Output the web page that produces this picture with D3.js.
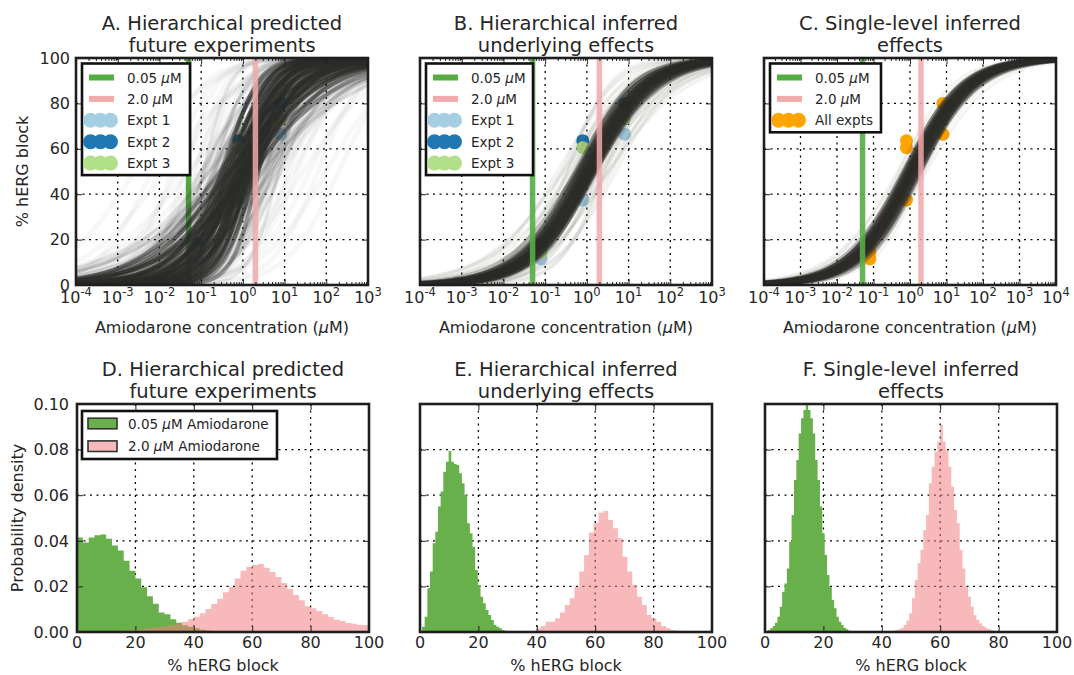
<!DOCTYPE html>
<html><head><meta charset="utf-8">
<script src="https://cdn.jsdelivr.net/npm/d3@7/dist/d3.min.js"></script>
<style>
body{margin:0;background:#fff;}
text{font-family:"DejaVu Sans","Liberation Sans",sans-serif;fill:#262626;}
</style>
</head><body>
<svg id="c" width="1074" height="675"></svg>
<script>
// ---------------- DATA ----------------
const topTitles = [["A. Hierarchical predicted","future experiments"],["B. Hierarchical inferred","underlying effects"],["C. Single-level inferred","effects"]];
const botTitles = [["D. Hierarchical predicted","future experiments"],["E. Hierarchical inferred","underlying effects"],["F. Single-level inferred","effects"]];
const xTickExpAB = [-4,-3,-2,-1,0,1,2,3];
const xTickExpC = [-4,-3,-2,-1,0,1,2,3,4];
const yTicksTop = [0,20,40,60,80,100];
const xTicksHist = [0,20,40,60,80,100];
const yTicksHist = [0,0.02,0.04,0.06,0.08,0.10];
const markerConcs = [0.05, 2.0];           // µM, vertical lines
const exptConcs = [0.0008, 0.08, 0.8, 8];  // µM
const expt1 = [0.3, 11.5, 37.4, 66.4];
const expt2 = [0.0, 18.4, 63.6, 80.0];
const expt3 = [1.0, 14.5, 60.5, 73.2];
const exptNames = ["Expt 1","Expt 2","Expt 3"];

// Hill-curve samples: log10 IC50 (µM) and Hill coefficient
const aCoreIC50 = [-0.55,-0.52,-0.49,-0.46,-0.44,-0.41,-0.39,-0.37,-0.35,-0.33,-0.31,-0.29,-0.27,-0.25,-0.23,-0.21,-0.19,-0.17,-0.15,-0.13,-0.12,-0.10,-0.09,-0.07,-0.06,-0.04,-0.03,-0.01,0.00,0.01,0.02,0.04,0.05,0.06,0.08,0.09,0.10,0.12,0.13,0.15,0.16,0.18,0.19,0.21,0.22,0.24,0.26,0.28,0.30,0.32,0.34,0.36,0.38,-0.30,-0.15,0.0,0.12,0.25,-0.05,0.07];
const aCoreHill = [0.45,0.95,0.70,1.10,0.50,0.85,1.25,0.62,0.90,0.42,1.05,0.75,0.58,1.15,0.80,0.48,0.98,0.68,1.30,0.55,0.88,0.44,1.08,0.74,0.62,1.20,0.52,0.92,0.70,1.00,0.46,1.12,0.80,0.60,0.96,0.66,1.35,0.50,0.86,0.72,1.18,0.54,0.94,0.40,1.02,0.64,1.28,0.78,0.48,1.10,0.70,0.90,1.40,0.44,0.84,0.58,1.22,0.76,1.38,0.42];
const aMidIC50 = [-1.0,-0.9,-0.82,-0.75,-0.7,-0.65,-0.6,-0.55,0.45,0.5,0.55,0.6,0.65,0.7,0.75,0.82,0.9,-0.8,-0.5,0.5,0.7,-0.3,0.3,0.0,-0.95,0.85,-0.68,0.62,-0.4,0.4];
const aMidHill = [0.6,0.8,0.5,1.0,0.7,1.2,0.45,0.9,0.55,0.85,1.1,0.65,0.5,0.95,0.7,0.6,0.8,0.38,0.35,0.4,0.45,0.32,0.36,0.34,1.4,1.3,0.75,0.9,0.3,0.33];
const aFringeIC50 = [-2.6,-2.2,-1.9,-1.7,-1.55,-1.4,-1.3,-1.2,-1.1,-1.0,-0.95,-0.9,-0.85,-0.8,-0.75,-0.7,-0.65,-0.6,-0.55,-0.5,-0.35,-0.2,-0.05,0.1,0.25,0.35,0.4,0.45,0.5,0.55,0.6,0.65,0.7,0.75,0.8,0.9,1.0,1.1,1.2,1.3,1.45,1.6,1.8,2.0,2.3,-1.0,-0.6,0.5,0.9,-0.3];
const aFringeHill = [0.5,0.7,0.45,0.9,0.6,1.1,0.4,0.8,1.3,0.55,0.95,0.65,1.5,0.45,0.75,1.2,0.5,0.85,1.0,0.6,0.35,0.3,1.6,0.4,0.32,0.7,1.4,0.55,0.9,0.6,1.2,0.5,0.8,1.0,0.45,0.7,0.55,0.9,0.6,0.75,0.5,0.65,0.8,0.55,0.7,0.38,0.42,0.36,0.48,1.8];
const bCoreIC50 = [-0.28,-0.26,-0.24,-0.22,-0.20,-0.19,-0.17,-0.16,-0.14,-0.13,-0.12,-0.10,-0.09,-0.08,-0.07,-0.06,-0.05,-0.04,-0.03,-0.02,-0.01,0.00,0.01,0.02,0.03,0.04,0.05,0.06,0.07,0.08,0.09,0.10,0.11,0.12,0.13,0.14,0.15,0.16,0.17,0.18,0.19,0.20,0.21,0.22,-0.05];
const bCoreHill = [0.60,0.52,0.66,0.56,0.63,0.58,0.70,0.54,0.61,0.65,0.57,0.62,0.68,0.53,0.59,0.64,0.56,0.60,0.67,0.55,0.62,0.58,0.65,0.51,0.60,0.69,0.57,0.63,0.54,0.61,0.66,0.56,0.59,0.64,0.52,0.62,0.58,0.67,0.55,0.60,0.63,0.53,0.57,0.61,0.59];
const bFringeIC50 = [-0.7,-0.6,-0.55,-0.5,-0.45,-0.4,-0.35,-0.32,0.28,0.3,0.35,0.4,0.45,0.5,0.55,0.6,0.7,-0.2,0.1,-0.45,0.4,0.0,-0.6,0.5,0.25];
const bFringeHill = [0.55,0.7,0.45,0.8,0.6,0.5,0.75,0.65,0.5,0.7,0.45,0.6,0.8,0.55,0.5,0.65,0.6,0.4,0.42,0.9,0.85,0.85,0.48,0.44,0.75];
const cCoreIC50 = [-0.18,-0.16,-0.14,-0.12,-0.10,-0.08,-0.06,-0.05,-0.03,-0.02,-0.01,0.00,0.01,0.02,0.03,0.04,0.05,0.06,0.07,0.08,0.09,0.10,0.11,0.12,0.13,0.15,0.16,0.18,0.20,0.22,0.24,0.26,0.28,0.30,0.07];
const cCoreHill = [0.55,0.51,0.58,0.53,0.57,0.52,0.59,0.54,0.56,0.50,0.58,0.55,0.52,0.57,0.54,0.60,0.53,0.56,0.51,0.58,0.55,0.52,0.59,0.54,0.57,0.50,0.56,0.53,0.58,0.55,0.51,0.57,0.54,0.59,0.55];
const cFringeIC50 = [-0.35,-0.3,-0.25,0.35,0.4,0.45,-0.1,0.2,0.0,0.1];
const cFringeHill = [0.5,0.6,0.45,0.5,0.62,0.48,0.45,0.65,0.62,0.46];

// Histograms (probability density), bins: start, width, heights
const dGreenStart = 0, dGreenWidth = 2;
const dGreen = [0.0415,0.0393,0.0414,0.0424,0.0428,0.0409,0.0379,0.0358,0.0313,0.0269,0.0235,0.0196,0.0157,0.0124,0.0086,0.0078,0.0056,0.0041,0.0030,0.0023,0.0016,0.0010,0.0007,0.0004,0.0002];
const dPinkStart = 0, dPinkWidth = 2;
const dPink = [0,0,0,0,0,0.0003,0.0004,0.0005,0.0007,0.0009,0.0011,0.0014,0.0017,0.0020,0.0023,0.0027,0.0031,0.0036,0.0045,0.0056,0.0067,0.0082,0.0101,0.0123,0.0145,0.0174,0.0197,0.0235,0.0269,0.0285,0.0294,0.0298,0.0282,0.0263,0.0241,0.0215,0.0189,0.0162,0.0139,0.0113,0.0104,0.0092,0.0078,0.0066,0.0054,0.0048,0.0039,0.0036,0.0031,0.0031];
const eGreenStart = 0.7, eGreenWidth = 0.91;
const eGreen = [0.0023,0.0067,0.0192,0.0265,0.0389,0.0440,0.0550,0.0616,0.0703,0.0747,0.0794,0.0747,0.0737,0.0732,0.0696,0.0652,0.0601,0.0477,0.0433,0.0374,0.0272,0.0206,0.0155,0.0126,0.0096,0.0075,0.0053,0.0031,0.0023,0.0016,0.0009,0.0006];
const ePinkStart = 39.7, ePinkWidth = 1.65;
const ePink = [0.0016,0.0026,0.0045,0.0045,0.0060,0.0085,0.0118,0.0148,0.0199,0.0265,0.0338,0.0436,0.0479,0.0523,0.0531,0.0491,0.0455,0.0411,0.0330,0.0265,0.0206,0.0155,0.0118,0.0075,0.0060,0.0045,0.0026,0.0016,0.0009,0.0006];
const fGreenStart = 1.0, fGreenWidth = 0.81;
const fGreen = [0.0009,0.0016,0.0026,0.0041,0.0067,0.0111,0.0177,0.0213,0.0279,0.0396,0.0513,0.0667,0.0754,0.0871,0.0937,0.0974,0.0996,0.0974,0.0937,0.0871,0.0754,0.0667,0.0550,0.0433,0.0338,0.0250,0.0199,0.0140,0.0104,0.0067,0.0045,0.0031,0.0019,0.0012,0.0006];
const fPinkStart = 44.6, fPinkWidth = 0.96;
const fPink = [0.0009,0.0012,0.0019,0.0031,0.0050,0.0082,0.0148,0.0228,0.0301,0.0360,0.0447,0.0513,0.0652,0.0725,0.0791,0.0835,0.0908,0.0835,0.0798,0.0725,0.0637,0.0535,0.0477,0.0360,0.0279,0.0199,0.0155,0.0111,0.0075,0.0053,0.0038,0.0026,0.0019,0.0013,0.0009];

// ---------------- STYLE / LAYOUT ----------------
const GREEN_LINE = "#55ad44", PINK_LINE = "#f2a9a9";
const GREEN_FILL = "#68b04b", PINK_FILL = "#f08080";
const EXPT_COLORS = ["#a6cee3","#1f78b4","#b2df8a"];
const ORANGE = "#ffa500";
const CURVE = "#2b2b29";
const W = 292;
const topTop = 58, topBot = 285;
const botTop = 404, botBot = 632;
const topX = [76, 420, 764];
const botX = [77, 420, 765];

const svg = d3.select("#c");
const defs = svg.append("defs");

function hill(x, logIC50, h){ return 100/(1+Math.pow(Math.pow(10,logIC50)/x, h)); }

function addMuText(sel, before, after){
  sel.append("tspan").text(before);
  sel.append("tspan").style("font-style","italic").text("\u03bc");
  sel.append("tspan").text(after);
}

function title(lines, cx, y1){
  lines.forEach((t,i)=>{
    svg.append("text").attr("x",cx).attr("y",y1+i*22).attr("text-anchor","middle")
      .style("font-size","19.5px").text(t);
  });
}

function ticksAll(g, xs, ys, xMajor, xMinor, yMajor, x0, y0, y1){
  const rm = s=>s.select(".domain").remove();
  const style = s=>s.selectAll("line").attr("stroke","#222").attr("stroke-width",1);
  g.append("g").attr("transform",`translate(0,${y1})`).call(d3.axisBottom(xs).tickValues(xMajor).tickSize(-6).tickFormat("")).call(rm).call(style);
  g.append("g").attr("transform",`translate(0,${y0})`).call(d3.axisTop(xs).tickValues(xMajor).tickSize(-6).tickFormat("")).call(rm).call(style);
  if (xMinor.length){
    g.append("g").attr("transform",`translate(0,${y1})`).call(d3.axisBottom(xs).tickValues(xMinor).tickSize(-3).tickFormat("")).call(rm).call(style);
    g.append("g").attr("transform",`translate(0,${y0})`).call(d3.axisTop(xs).tickValues(xMinor).tickSize(-3).tickFormat("")).call(rm).call(style);
  }
  g.append("g").attr("transform",`translate(${x0},0)`).call(d3.axisLeft(ys).tickValues(yMajor).tickSize(-6).tickFormat("")).call(rm).call(style);
  g.append("g").attr("transform",`translate(${x0+W},0)`).call(d3.axisRight(ys).tickValues(yMajor).tickSize(-6).tickFormat("")).call(rm).call(style);
}

function grid(g, xs, ys, xVals, yVals, x0, y0, y1){
  xVals.forEach(v=>{
    g.append("line").attr("x1",xs(v)).attr("x2",xs(v)).attr("y1",y0).attr("y2",y1)
      .attr("stroke","#000").attr("stroke-width",1.3).attr("stroke-dasharray","2,4.5");
  });
  yVals.forEach(v=>{
    g.append("line").attr("x1",x0).attr("x2",x0+W).attr("y1",ys(v)).attr("y2",ys(v))
      .attr("stroke","#000").attr("stroke-width",1.3).attr("stroke-dasharray","2,4.5");
  });
}

function frame(g, x0, y0, y1){
  g.append("rect").attr("x",x0).attr("y",y0).attr("width",W).attr("height",y1-y0)
    .attr("fill","none").attr("stroke","#1e1e1e").attr("stroke-width",2.6);
}

// ---------------- TOP PANELS ----------------
const topPanels = [
  {exps:xTickExpAB, sets:[[aFringeIC50,aFringeHill,0.04,5],[aMidIC50,aMidHill,0.1,3.5],[aCoreIC50,aCoreHill,0.42,4]], greenOnTop:false, single:false, legW:108},
  {exps:xTickExpAB, sets:[[bFringeIC50,bFringeHill,0.06,3.5],[bCoreIC50,bCoreHill,0.3,4.2]], greenOnTop:true, single:false, legW:107},
  {exps:xTickExpC, sets:[[cFringeIC50,cFringeHill,0.06,3],[cCoreIC50,cCoreHill,0.34,4.6]], greenOnTop:true, single:true, legW:111}
];

topPanels.forEach((p,i)=>{
  const x0 = topX[i];
  const lo = d3.min(p.exps), hi = d3.max(p.exps);
  const xs = d3.scaleLog().domain([Math.pow(10,lo), Math.pow(10,hi)]).range([x0, x0+W]);
  const ys = d3.scaleLinear().domain([0,100]).range([topBot, topTop]);
  const clipId = "ct"+i;
  defs.append("clipPath").attr("id",clipId).append("rect").attr("x",x0).attr("y",topTop).attr("width",W).attr("height",topBot-topTop);
  const g = svg.append("g");
  const inner = g.append("g").attr("clip-path",`url(#${clipId})`);
  const majors = p.exps.map(e=>Math.pow(10,e));
  const minors = [];
  p.exps.slice(0,-1).forEach(e=>{ for(let k=2;k<=9;k++) minors.push(k*Math.pow(10,e)); });
  grid(inner, xs, ys, majors.slice(1,-1), yTicksTop.slice(1,-1), x0, topTop, topBot);

  const vline = (c,color,op)=> inner.append("line").attr("x1",xs(c)).attr("x2",xs(c)).attr("y1",topTop).attr("y2",topBot)
      .attr("stroke",color).attr("stroke-width",5.5).attr("opacity",op);
  if(!p.greenOnTop) vline(markerConcs[0], GREEN_LINE, 1);

  // experimental points (under the curves)
  const exps = [expt1, expt2, expt3];
  exps.forEach((vals,k)=>{
    vals.forEach((v,j)=>{
      inner.append("circle").attr("cx",xs(exptConcs[j])).attr("cy",ys(v)).attr("r",6.5)
        .attr("fill", p.single ? ORANGE : EXPT_COLORS[k]);
    });
  });

  // curves
  const nS = 200;
  const xsamp = d3.range(nS+1).map(k=>Math.pow(10, lo + (hi-lo)*k/nS));
  const line = d3.line().x(d=>xs(d[0])).y(d=>ys(d[1]));
  p.sets.forEach(([ics, hs, op, sw])=>{
    ics.forEach((ic,k)=>{
      const pts = xsamp.map(x=>[x, hill(x, ic, hs[k])]);
      inner.append("path").attr("d",line(pts)).attr("fill","none")
        .attr("stroke",CURVE).attr("stroke-width",sw).attr("stroke-opacity",op);
    });
  });

  if(p.greenOnTop) vline(markerConcs[0], GREEN_LINE, 0.9);
  vline(markerConcs[1], PINK_LINE, 0.85);

  ticksAll(g, xs, ys, majors, minors, yTicksTop, x0, topTop, topBot);
  frame(g, x0, topTop, topBot);

  // x tick labels 10^e
  p.exps.forEach(e=>{
    const t = g.append("text").attr("x",xs(Math.pow(10,e))).attr("y",303).attr("text-anchor","middle").style("font-size","16px");
    t.append("tspan").text("10");
    t.append("tspan").attr("dy",-7).style("font-size","11.5px").text(e<0 ? "-"+(-e) : String(e));
  });
  // y tick labels only on first
  if(i===0){
    yTicksTop.forEach(v=>{
      g.append("text").attr("x",x0-6).attr("y",ys(v)+5.5).attr("text-anchor","end").style("font-size","16px").text(v);
    });
    g.append("text").attr("transform",`translate(28,${(topTop+topBot)/2}) rotate(-90)`).attr("text-anchor","middle")
      .style("font-size","16px").text("% hERG block");
  }
  addMuText(g.append("text").attr("x",x0+W/2).attr("y",333).attr("text-anchor","middle").style("font-size","16px"),
    "Amiodarone concentration (", "M)");
  title(topTitles[i], x0+W/2, 29.5);

  // legend
  const lx = x0+6, ly = topTop+5.5;
  const rows = p.single ? 3 : 5;
  const lh = 14 + (rows-1)*21.4 + 12;
  g.append("rect").attr("x",lx).attr("y",ly).attr("width",p.legW).attr("height",lh)
    .attr("fill","#fff").attr("stroke","#111").attr("stroke-width",2.6);
  const rowY = r=> ly + 14 + r*21.4;
  [[GREEN_LINE,"0.05 "],[PINK_LINE,"2.0 "]].forEach((d,r)=>{
    g.append("line").attr("x1",lx+7).attr("x2",lx+32).attr("y1",rowY(r)).attr("y2",rowY(r))
      .attr("stroke",d[0]).attr("stroke-width",6);
    addMuText(g.append("text").attr("x",lx+45).attr("y",rowY(r)+5).style("font-size","13.5px"), d[1], "M");
  });
  const dotRows = p.single ? [[ORANGE,"All expts"]] : EXPT_COLORS.map((c,k)=>[c, exptNames[k]]);
  dotRows.forEach((d,r)=>{
    const yy = rowY(r+2);
    [8.5,18.5,28.5].forEach(dx=>{
      g.append("circle").attr("cx",lx+dx).attr("cy",yy).attr("r",7.5).attr("fill",d[0]);
    });
    g.append("text").attr("x",lx+45).attr("y",yy+5).style("font-size","13.5px").text(d[1]);
  });
});

// ---------------- BOTTOM PANELS ----------------
const botPanels = [
  {green:[dGreenStart,dGreenWidth,dGreen], pink:[dPinkStart,dPinkWidth,dPink]},
  {green:[eGreenStart,eGreenWidth,eGreen], pink:[ePinkStart,ePinkWidth,ePink]},
  {green:[fGreenStart,fGreenWidth,fGreen], pink:[fPinkStart,fPinkWidth,fPink]}
];

botPanels.forEach((p,i)=>{
  const x0 = botX[i];
  const xs = d3.scaleLinear().domain([0,100]).range([x0, x0+W]);
  const ys = d3.scaleLinear().domain([0,0.1]).range([botBot, botTop]);
  const clipId = "cb"+i;
  defs.append("clipPath").attr("id",clipId).append("rect").attr("x",x0).attr("y",botTop).attr("width",W).attr("height",botBot-botTop);
  const g = svg.append("g");
  const inner = g.append("g").attr("clip-path",`url(#${clipId})`);
  grid(inner, xs, ys, xTicksHist.slice(1,-1), yTicksHist.slice(1,-1), x0, botTop, botBot);

  const area = d3.area().curve(d3.curveStepAfter).x(d=>xs(d[0])).y0(ys(0)).y1(d=>ys(d[1]));
  const hist = (spec, color, op)=>{
    const [s,w,vals] = spec;
    const pts = vals.map((v,k)=>[s+k*w, v]);
    pts.push([s+vals.length*w, 0]);
    inner.append("path").attr("d",area(pts)).attr("fill",color).attr("fill-opacity",op);
  };
  hist(p.green, GREEN_FILL, 1);
  hist(p.pink, PINK_FILL, 0.55);

  ticksAll(g, xs, ys, xTicksHist, [], yTicksHist, x0, botTop, botBot);
  frame(g, x0, botTop, botBot);

  xTicksHist.forEach(v=>{
    g.append("text").attr("x",xs(v)).attr("y",648).attr("text-anchor","middle").style("font-size","16px").text(v);
  });
  g.append("text").attr("x",x0+W/2).attr("y",671).attr("text-anchor","middle").style("font-size","16px").text("% hERG block");
  if(i===0){
    yTicksHist.forEach(v=>{
      g.append("text").attr("x",x0-8).attr("y",ys(v)+5.8).attr("text-anchor","end").style("font-size","16px").text(v.toFixed(2));
    });
    g.append("text").attr("transform",`translate(23,${(botTop+botBot)/2}) rotate(-90)`).attr("text-anchor","middle")
      .style("font-size","16px").text("Probability density");
    // legend
    const lx = x0+5, ly = botTop+7;
    g.append("rect").attr("x",lx).attr("y",ly).attr("width",195).attr("height",48)
      .attr("fill","#fff").attr("stroke","#111").attr("stroke-width",2.6);
    [[GREEN_FILL,1,"0.05 "],[PINK_FILL,0.55,"2.0 "]].forEach((d,r)=>{
      const yy = ly + 12.5 + r*22.7;
      g.append("rect").attr("x",lx+6).attr("y",yy-5.3).attr("width",29).attr("height",10.6)
        .attr("fill",d[0]).attr("fill-opacity",d[1]).attr("stroke","#333").attr("stroke-width",1.6);
      addMuText(g.append("text").attr("x",lx+46).attr("y",yy+5).style("font-size","13.5px"), d[2], "M Amiodarone");
    });
  }
  title(botTitles[i], x0+W/2, 375.5);
});
</script>
</body></html>
